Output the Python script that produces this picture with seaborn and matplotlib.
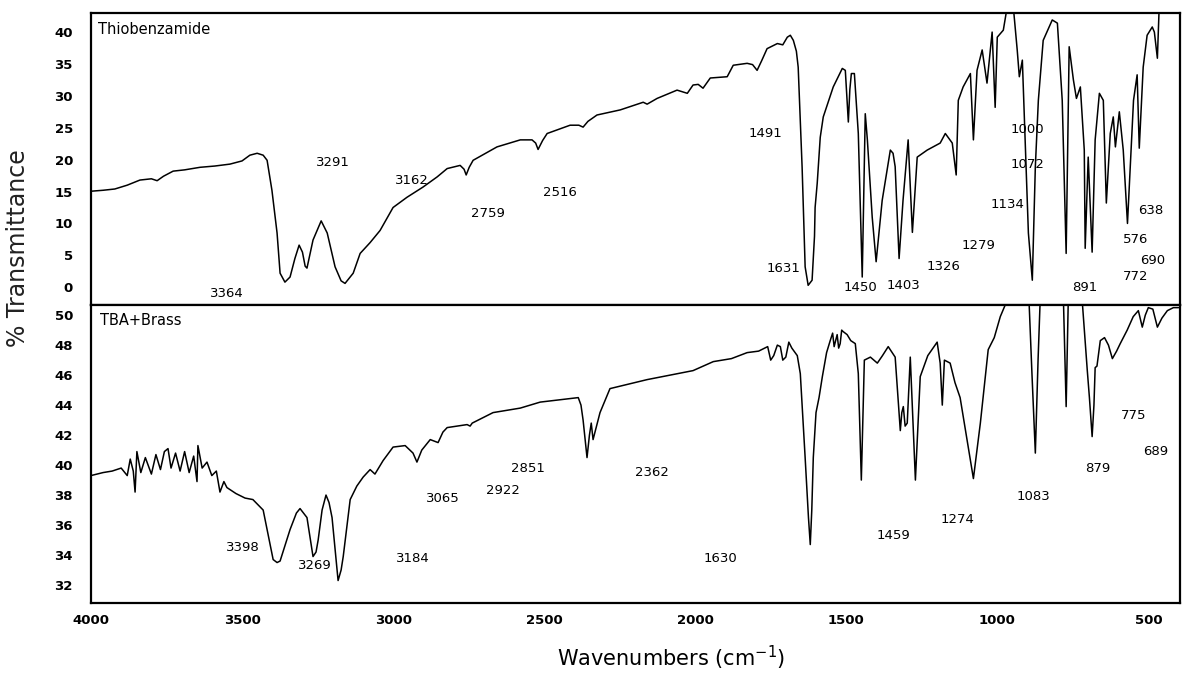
import numpy as np
import pandas as pd
import seaborn as sns
import matplotlib.pyplot as plt

sns.set_style("white")
plt.rcParams['font.family'] = ['DejaVu Sans']
plt.rcParams['text.color'] = 'black'
plt.rcParams['xtick.color'] = 'black'
plt.rcParams['ytick.color'] = 'black'

# Thiobenzamide spectrum
top_wn = [4000, 3960, 3921, 3880, 3838, 3800, 3781, 3760, 3728, 3690, 3639, 3590, 3540, 3500,
          3474, 3450, 3430, 3417, 3401, 3384, 3374, 3358, 3341, 3325, 3311, 3300, 3291, 3285,
          3265, 3238, 3218, 3192, 3172, 3159, 3132, 3109, 3076, 3043, 3000, 2954, 2901, 2854,
          2821, 2778, 2765, 2758, 2748, 2735, 2656, 2579, 2540, 2528, 2520, 2505, 2490, 2414,
          2385, 2371, 2355, 2325, 2248, 2172, 2159, 2126, 2060, 2026, 2007, 1990, 1974, 1950,
          1894, 1874, 1828, 1810, 1795, 1780, 1762, 1728, 1710, 1695, 1685, 1675, 1665, 1659,
          1646, 1636, 1626, 1613, 1605, 1603, 1596, 1586, 1576, 1543, 1513, 1503, 1497, 1493,
          1488, 1483, 1473, 1460, 1447, 1437, 1430, 1414, 1401, 1381, 1354, 1345, 1338, 1325,
          1312, 1295, 1281, 1265, 1232, 1189, 1172, 1149, 1136, 1129, 1113, 1089, 1079, 1067,
          1050, 1034, 1017, 1007, 1000, 980, 967, 947, 934, 927, 917, 907, 897, 884, 874, 864,
          848, 818, 801, 785, 772, 762, 748, 738, 725, 712, 709, 699, 686, 676, 662, 649, 639,
          626, 616, 609, 596, 583, 569, 549, 537, 530, 517, 504, 487, 480, 470, 464, 400]
top_T = [15.05, 15.2, 15.4, 16.0, 16.8, 17.0, 16.7, 17.4, 18.2, 18.4, 18.8, 19.0, 19.3, 19.8,
         20.7, 21.0, 20.7, 19.9, 15.2, 8.5, 2.2, 0.8, 1.6, 4.5, 6.6, 5.5, 3.3, 3.0,
         7.4, 10.4, 8.5, 3.2, 1.0, 0.6, 2.2, 5.3, 7.0, 8.9, 12.5, 14.1, 15.7, 17.3,
         18.6, 19.1, 18.5, 17.6, 18.8, 19.9, 22.0, 23.1, 23.1, 22.6, 21.6, 23.0, 24.1, 25.4,
         25.4, 25.1, 26.0, 27.0, 27.8, 29.0, 28.7, 29.6, 30.9, 30.4, 31.7, 31.8, 31.2, 32.8,
         33.0, 34.8, 35.1, 34.9, 34.0, 35.5, 37.4, 38.2, 38.0, 39.2, 39.5, 38.7, 37.0, 34.5,
         18.8, 3.2, 0.3, 1.1, 8.0, 12.5, 16.3, 23.5, 26.7, 31.4, 34.3, 34.0, 29.0, 25.9,
         31.0, 33.5, 33.5, 24.1, 1.6, 27.2, 23.1, 11.0, 4.0, 13.6, 21.5, 21.0, 18.9, 4.5,
         13.6, 23.1, 8.6, 20.4, 21.5, 22.6, 24.1, 22.6, 17.6, 29.3, 31.4, 33.5, 23.1, 34.0,
         37.2, 32.0, 40.0, 28.2, 39.2, 40.3, 44.0, 44.0, 37.2, 33.0, 35.6, 22.0, 8.5, 1.1, 18.9, 29.3,
         38.7, 41.9, 41.4, 29.3, 5.3, 37.7, 32.5, 29.6, 31.4, 21.5, 6.1, 20.4, 5.5, 23.1, 30.4, 29.3, 13.2,
         24.1, 26.7, 22.0, 27.5, 21.5, 10.0, 29.3, 33.3, 21.8, 34.5, 39.5, 40.8, 40.0, 35.9, 44.0, 44.0]

# TBA + Brass spectrum
bot_wn = [4000, 3960, 3930, 3900, 3880, 3870, 3860, 3854, 3848, 3835, 3820, 3800, 3785, 3770,
          3757, 3745, 3735, 3720, 3705, 3690, 3675, 3660, 3649, 3646, 3632, 3616, 3600, 3585,
          3573, 3560, 3550, 3520, 3490, 3464, 3430, 3410, 3397, 3384, 3374, 3355, 3341, 3320,
          3308, 3285, 3272, 3265, 3255, 3248, 3235, 3222, 3212, 3202, 3190, 3182, 3172, 3165,
          3142, 3120, 3099, 3076, 3065, 3060, 3033, 3000, 2960, 2934, 2921, 2905, 2877, 2851,
          2835, 2821, 2755, 2745, 2738, 2669, 2579, 2513, 2387, 2378, 2371, 2358, 2350, 2344,
          2338, 2315, 2282, 2159, 2007, 1940, 1880, 1828, 1790, 1760, 1750, 1740, 1728, 1718,
          1710, 1700, 1690, 1680, 1662, 1652, 1636, 1625, 1619, 1614, 1609, 1600, 1590, 1579,
          1565, 1553, 1545, 1540, 1530, 1525, 1520, 1515, 1510, 1497, 1485, 1470, 1460, 1450,
          1440, 1420, 1397, 1380, 1361, 1338, 1321, 1316, 1311, 1305, 1298, 1288, 1271, 1255,
          1230, 1199, 1189, 1182, 1175, 1156, 1140, 1123, 1079, 1056, 1030, 1010, 990, 967, 895,
          885, 874, 865, 858, 781, 772, 765, 719, 710, 702, 695, 686, 680, 676, 670, 659, 645,
          632, 619, 605, 593, 570, 550, 533, 520, 510, 500, 485, 470, 455, 437, 417, 400]
bot_T = [39.3, 39.5, 39.6, 39.8, 39.3, 40.4, 39.6, 38.2, 40.9, 39.5, 40.5, 39.4, 40.7, 39.7,
         40.9, 41.1, 39.8, 40.8, 39.6, 40.9, 39.5, 40.6, 38.9, 41.3, 39.8, 40.2, 39.3, 39.6,
         38.2, 38.9, 38.5, 38.1, 37.8, 37.7, 37.0, 35.0, 33.7, 33.5, 33.6, 34.8, 35.7, 36.8,
         37.1, 36.5, 34.8, 33.9, 34.2, 35.0, 37.0, 38.0, 37.5, 36.5, 34.0, 32.3, 33.0, 33.9,
         37.7, 38.6, 39.2, 39.7, 39.5, 39.4, 40.3, 41.2, 41.3, 40.8, 40.2, 41.0, 41.7, 41.5,
         42.2, 42.5, 42.7, 42.6, 42.8, 43.5, 43.8, 44.2, 44.5, 44.0, 43.0, 40.5, 42.0, 42.8,
         41.7, 43.5, 45.1, 45.7, 46.3, 46.9, 47.1, 47.5, 47.6, 47.9, 47.0, 47.3, 48.0, 47.9,
         47.0, 47.2, 48.2, 47.8, 47.3, 46.1, 40.5, 36.5, 34.7, 37.0, 40.5, 43.5, 44.5, 45.9,
         47.5, 48.3, 48.8, 47.9, 48.7, 47.8, 48.1, 49.0, 48.9, 48.7, 48.3, 48.1, 46.1, 39.0,
         47.0, 47.2, 46.8, 47.3, 47.9, 47.2, 42.3, 43.5, 43.9, 42.6, 42.8, 47.2, 39.0, 45.9,
         47.3, 48.2, 46.8, 44.0, 47.0, 46.8, 45.5, 44.5, 39.1, 42.8, 47.7, 48.5, 49.9, 51.0, 51.0,
         46.0, 40.8, 47.0, 51.0, 51.0, 43.9, 51.0, 51.0, 48.5, 46.3, 44.5, 41.9, 44.0, 46.5, 46.6, 48.3, 48.5,
         48.0, 47.1, 47.6, 48.1, 49.0, 49.9, 50.3, 49.2, 50.0, 50.5, 50.4, 49.2, 49.8, 50.3, 50.5, 50.5]

top_labels = ["3291", "3364", "3162", "2759", "2516", "1491", "1631", "1450", "1403", "1326",
              "1279", "1134", "1072", "1000", "891", "772", "690", "576", "638"]
top_label_pos = [(3199, 19.6), (3550, -1.0), (2937, 16.8), (2685, 11.6), (2447, 14.8),
                 (1768, 24.1), (1708, 3.0), (1454, 0.0), (1311, 0.2), (1179, 3.2),
                 (1063, 6.6), (967, 13.0), (901, 19.3), (901, 24.8), (709, 0.0),
                 (543, 1.7), (487, 4.2), (543, 7.5), (493, 12.0)]
bot_labels = ["3398", "3269", "3184", "3065", "2922", "2851", "2362", "1630", "1459",
              "1274", "1083", "879", "775", "689"]
bot_label_pos = [(3497, 34.5), (3258, 33.3), (2934, 33.8), (2834, 37.8), (2636, 38.3),
                 (2553, 39.8), (2142, 39.5), (1917, 33.8), (1344, 35.3), (1132, 36.4),
                 (881, 37.9), (669, 39.8), (550, 43.3), (477, 40.9)]

top_df = pd.DataFrame({"wn": top_wn, "T": top_T})
bot_df = pd.DataFrame({"wn": bot_wn, "T": bot_T})

fig = plt.figure(figsize=(11.83, 6.81), dpi=100)
ax1 = fig.add_axes([0.0769, 0.552, 0.9206, 0.429])
ax2 = fig.add_axes([0.0769, 0.1145, 0.9206, 0.4375], sharex=ax1)

sns.lineplot(data=top_df, x="wn", y="T", ax=ax1, color="black", lw=1.1, sort=False)
sns.lineplot(data=bot_df, x="wn", y="T", ax=ax2, color="black", lw=1.1, sort=False)

ax1.set_xlim(4000, 395)
ax1.set_ylim(-2.8, 43)
ax2.set_ylim(30.8, 50.67)
ax1.set_yticks(np.arange(0, 41, 5))
ax2.set_yticks(np.arange(32, 51, 2))
ax2.set_xticks(np.arange(4000, 499, -500))

for ax in (ax1, ax2):
    ax.set_xlabel("")
    ax.set_ylabel("")
    for s in ax.spines.values():
        s.set_linewidth(1.6)
        s.set_color("black")
    ax.tick_params(axis="y", length=0, pad=13, labelsize=9.5, labelcolor="black")
    ax.tick_params(axis="x", length=0, pad=8, labelsize=9.5, labelcolor="black")
    for lab in ax.get_xticklabels() + ax.get_yticklabels():
        lab.set_fontweight("bold")
ax1.tick_params(axis="x", labelbottom=False)

ax1.text(0.006, 0.97, "Thiobenzamide", transform=ax1.transAxes, fontsize=10.5, va="top")
ax2.text(0.008, 0.975, "TBA+Brass", transform=ax2.transAxes, fontsize=10.5, va="top")

for t, (x, y) in zip(top_labels, top_label_pos):
    ax1.text(x, y, t, fontsize=9.5, ha="center", va="center")
for t, (x, y) in zip(bot_labels, bot_label_pos):
    ax2.text(x, y, t, fontsize=9.5, ha="center", va="center")

fig.text(0.0155, 0.636, "% Transmittance", rotation=90, fontsize=17, va="center", ha="center",
         color="#222222")
fig.text(0.567, 0.034, "Wavenumbers (cm$^{-1}$)", fontsize=15, ha="center", va="center")

fig.savefig("out.png", dpi=100)
